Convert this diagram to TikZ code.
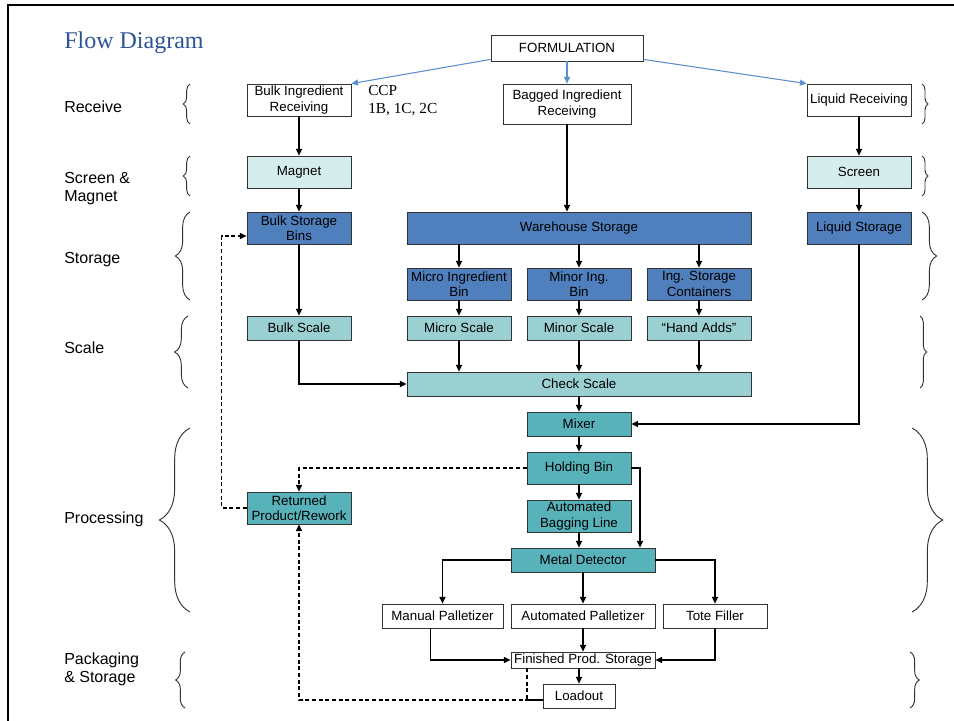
\documentclass[tikz,border=0pt]{standalone}
\usepackage{fontspec}
\setmainfont{Liberation Sans}
\newfontfamily\timesfont{Liberation Serif}
\usetikzlibrary{arrows.meta, decorations.pathreplacing}

\definecolor{paleteal}{HTML}{D6EDEE}
\definecolor{binblue}{HTML}{4F7FBD}
\definecolor{scaleteal}{HTML}{9BD0D3}
\definecolor{procteal}{HTML}{58B2B9}
\definecolor{titleblue}{HTML}{2F5496}
\definecolor{formblue}{HTML}{5B8FD0}

\tikzset{brc/.style={decorate, decoration={brace, amplitude=#1}}}

\begin{document}
\begin{tikzpicture}[x=0.75pt, y=-0.75pt]
\useasboundingbox (0,0) rectangle (954,721);
\draw[line width=2pt] (8,721) -- (8,5) -- (954,5);

\node[anchor=west, inner sep=0pt, text=titleblue, font=\timesfont\fontsize{18}{20}\selectfont] (title) at (64,43) {Flow Diagram};
\node[anchor=west, inner sep=0pt, align=left, font=\timesfont\fontsize{11.5}{13.5}\selectfont] (ccp) at (368,101) {CCP\\1B, 1C, 2C};

% stage labels
\begin{scope}[every node/.style={anchor=west, inner sep=0pt, align=left, font=\fontsize{12}{13.5}\selectfont}]
    \node (receive) at (64,107) {Receive};
    \node (screenmag) at (64,189) {Screen \&\\Magnet};
    \node (storage) at (64,260) {Storage};
    \node (scale) at (64,348) {Scale};
    \node (processing) at (64,519) {Processing};
    \node (packaging) at (64,669) {Packaging\\\& Storage};
\end{scope}

% braces
\begin{scope}[line width=0.7pt, draw=black!80]
    \draw[brc=5pt] (190,124) -- (190,84);
    \draw[brc=5pt] (190,196) -- (190,156);
    \draw[brc=11pt] (190,300) -- (190,212);
    \draw[brc=10pt] (188,388) -- (188,316);
    \draw[brc=23pt] (190,612) -- (190,428);
    \draw[brc=7pt] (185,708) -- (185,652);
    \draw[brc=4.5pt] (922,84) -- (922,124);
    \draw[brc=4.5pt] (922,156) -- (922,196);
    \draw[brc=11pt] (922,212) -- (922,300);
    \draw[brc=5pt] (920,316) -- (920,388);
    \draw[brc=23pt] (912,428) -- (912,612);
    \draw[brc=7pt] (910,652) -- (910,708);
\end{scope}

% boxes
\begin{scope}[every node/.style={draw=black!80, line width=0.6pt, inner sep=0pt, align=center,
              minimum width=78pt, minimum height=24pt, font=\fontsize{10}{11.5}\selectfont}]
    \node (form) at (567,48) [minimum width=114pt, minimum height=19.5pt] {FORMULATION};
    \node (bulkrec) at (299,100) {Bulk Ingredient\\Receiving};
    \node (bagrec) at (567,104) [minimum width=96pt, minimum height=30pt] {Bagged Ingredient\\Receiving};
    \node (liqrec) at (859,100) {Liquid Receiving};

    \node (magnet) at (299,172) [fill=paleteal] {Magnet};
    \node (screen) at (859,172) [fill=paleteal] {Screen};

    \node (bulkbin) at (299,228) [fill=binblue] {Bulk Storage\\Bins};
    \node (whstore) at (579,228) [fill=binblue, minimum width=258pt] {Warehouse Storage};
    \node (liqstore) at (859,228) [fill=binblue] {Liquid Storage};
    \node (microbin) at (459,284) [fill=binblue] {Micro Ingredient\\Bin};
    \node (minorbin) at (579,284) [fill=binblue] {Minor Ing.\\Bin};
    \node (ingcont) at (699,284) [fill=binblue] {Ing. Storage\\Containers};

    \node (bulkscale) at (299,328) [fill=scaleteal, minimum height=18pt] {Bulk Scale};
    \node (microscale) at (459,328) [fill=scaleteal, minimum height=18pt] {Micro Scale};
    \node (minorscale) at (579,328) [fill=scaleteal, minimum height=18pt] {Minor Scale};
    \node (handadds) at (699,328) [fill=scaleteal, minimum height=18pt] {``Hand Adds''};
    \node (check) at (579,384) [fill=scaleteal, minimum width=258pt, minimum height=18pt] {Check Scale};

    \node (mixer) at (579,424) [fill=procteal, minimum height=18pt] {Mixer};
    \node (holding) at (579,468) [fill=procteal] {Holding Bin};
    \node (bagline) at (579,516) [fill=procteal] {Automated\\Bagging Line};
    \node (metal) at (583,560) [fill=procteal, minimum width=108pt, minimum height=18pt] {Metal Detector};
    \node (rework) at (299,508) [fill=procteal] {Returned\\Product/Rework};

    \node (manual) at (442.5,616) [minimum width=90.75pt, minimum height=18pt] {Manual Palletizer};
    \node (autopal) at (583,616) [minimum width=108pt, minimum height=18pt] {Automated Palletizer};
    \node (tote) at (715,616) [minimum height=18pt] {Tote Filler};
    \node (finished) at (583,660) [minimum width=108pt, minimum height=12pt] {Finished Prod. Storage};
    \node (loadout) at (579,696) [minimum width=54pt, minimum height=18pt] {Loadout};
\end{scope}

\coordinate (hbturn) at (640,468);

% flow
\begin{scope}[>={Triangle[length=5pt, width=4.5pt]}, line width=0.8pt]
    \draw[->, formblue] ([yshift=1.5pt]form.south west) -- (bulkrec.north east);
    \draw[->, formblue] (form) -- (bagrec);
    \draw[->, formblue] ([yshift=1.5pt]form.south east) -- (liqrec.north west);

    \draw[->] (bulkrec) -- (magnet);
    \draw[->] (magnet) -- (bulkbin);
    \draw[->] (bulkbin) -- (bulkscale);
    \draw[->, line width=1.2pt] (bulkscale) |- (check);
    \draw[->] (bagrec.south) -- (bagrec.south |- whstore.north);
    \draw[->] (liqrec) -- (screen);
    \draw[->] (screen) -- (liqstore);
    \draw[->, line width=1.2pt] (liqstore) |- (mixer);

    \draw[->] (whstore.south -| microbin) -- (microbin);
    \draw[->] (whstore.south -| minorbin) -- (minorbin);
    \draw[->] (whstore.south -| ingcont) -- (ingcont);
    \draw[->] (microbin) -- (microscale);
    \draw[->] (minorbin) -- (minorscale);
    \draw[->] (ingcont) -- (handadds);
    \draw[->] (microscale.south) -- (microscale.south |- check.north);
    \draw[->] (minorscale.south) -- (minorscale.south |- check.north);
    \draw[->] (handadds.south) -- (handadds.south |- check.north);

    \draw[->] (check.south -| mixer) -- (mixer);
    \draw[->] (mixer) -- (holding);
    \draw[->] (holding) -- (bagline);
    \draw[->] (holding.east) -- (hbturn) -- (hbturn |- metal.north);
    \draw[->] (bagline.south) -- (bagline.south |- metal.north);

    \draw[->] (metal.west) -| (manual.north);
    \draw[->] (metal.south -| autopal) -- (autopal);
    \draw[->] (metal.east) -| (tote.north);
    \draw[->] ([xshift=-9pt]manual.south) |- (finished.west);
    \draw[->] (autopal.south -| finished) -- (finished);
    \draw[->] (tote.south) |- (finished.east);
    \draw[->] (finished.south -| loadout) -- (loadout);

    % returns
    \draw[->, dash pattern=on 3pt off 2pt] (holding.west) -| (rework.north);
    \draw[->, dash pattern=on 3pt off 2pt] (rework.west) -- ++(-25,0) |- ([yshift=-6pt]bulkbin.west);
    \draw[->, dash pattern=on 3pt off 2pt] ([yshift=-3pt]loadout.west) -| (rework.south);
    \draw[dash pattern=on 3pt off 2pt] ([xshift=-42pt]finished.south) |- ([yshift=-3pt]loadout.west);
\end{scope}
\end{tikzpicture}
\end{document}
